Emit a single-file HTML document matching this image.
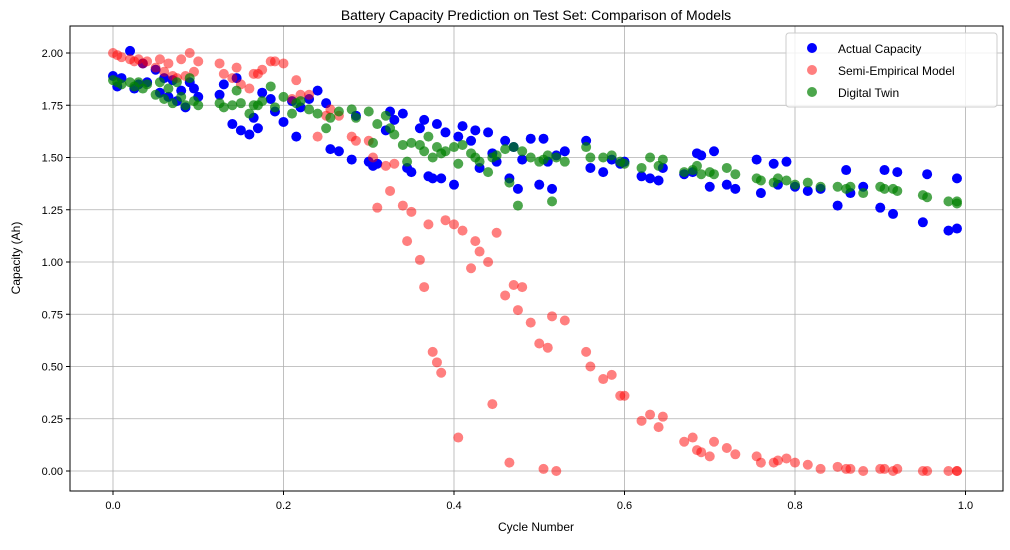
<!DOCTYPE html>
<html><head><meta charset="utf-8"><style>
body{margin:0;background:#fff;}
svg text{font-family:"Liberation Sans","DejaVu Sans",sans-serif;}
</style></head><body>
<svg id="chart" width="1010" height="545" xmlns="http://www.w3.org/2000/svg">
<rect width="1010" height="545" fill="#fff"/>
<text x="536" y="20" text-anchor="middle" font-size="14">Battery Capacity Prediction on Test Set: Comparison of Models</text>
<g id="grid"></g>
<g id="marks"></g>
<rect x="70" y="26" width="933" height="465" fill="none" stroke="#000" stroke-width="1"/>
<g id="ticks"></g>
<text x="536" y="531" text-anchor="middle" font-size="12">Cycle Number</text>
<text transform="translate(20,258) rotate(-90)" text-anchor="middle" font-size="12">Capacity (Ah)</text>
<g>
<rect x="786" y="33" width="211" height="74" rx="3" fill="#fff" fill-opacity="0.8" stroke="#ccc"/>
<g><circle cx="812" cy="48" r="5" fill="#0000ff"/><text x="838" y="53" font-size="12">Actual Capacity</text></g>
<g><circle cx="812" cy="70" r="5" fill="#ff0000" fill-opacity="0.5"/><text x="838" y="75" font-size="12">Semi-Empirical Model</text></g>
<g><circle cx="812" cy="92" r="5" fill="#008000" fill-opacity="0.7"/><text x="838" y="97" font-size="12">Digital Twin</text></g>
</g>
</svg>
<script>
const cycles=[0.00,0.005,0.01,0.02,0.025,0.03,0.035,0.04,0.05,0.055,0.06,0.065,0.07,0.075,0.08,0.085,0.09,0.095,0.10,0.125,0.13,0.14,0.145,0.15,0.16,0.165,0.17,0.175,0.185,0.19,0.20,0.21,0.215,0.22,0.23,0.24,0.25,0.255,0.265,0.28,0.285,0.30,0.305,0.31,0.32,0.325,0.33,0.34,0.345,0.35,0.36,0.365,0.37,0.375,0.38,0.385,0.39,0.40,0.405,0.41,0.42,0.425,0.43,0.44,0.445,0.45,0.46,0.465,0.47,0.475,0.48,0.49,0.50,0.505,0.51,0.515,0.52,0.53,0.555,0.56,0.575,0.585,0.595,0.60,0.62,0.63,0.64,0.645,0.67,0.68,0.685,0.69,0.70,0.705,0.72,0.73,0.755,0.76,0.775,0.78,0.79,0.80,0.815,0.83,0.85,0.86,0.865,0.88,0.90,0.905,0.915,0.92,0.95,0.955,0.98,0.99,0.99];
const actual=[1.89,1.84,1.88,2.01,1.83,1.85,1.95,1.86,1.92,1.81,1.88,1.79,1.87,1.77,1.82,1.74,1.86,1.83,1.79,1.80,1.85,1.66,1.88,1.63,1.61,1.69,1.64,1.81,1.78,1.72,1.67,1.77,1.60,1.74,1.78,1.82,1.76,1.54,1.53,1.49,1.70,1.48,1.46,1.47,1.63,1.72,1.68,1.71,1.45,1.43,1.64,1.68,1.41,1.40,1.66,1.40,1.62,1.37,1.60,1.65,1.58,1.63,1.45,1.62,1.52,1.48,1.58,1.40,1.55,1.35,1.49,1.59,1.37,1.59,1.48,1.35,1.51,1.53,1.58,1.45,1.43,1.49,1.47,1.48,1.41,1.40,1.39,1.45,1.42,1.43,1.52,1.51,1.36,1.53,1.37,1.35,1.49,1.33,1.47,1.37,1.48,1.36,1.34,1.35,1.27,1.44,1.33,1.36,1.26,1.44,1.23,1.43,1.19,1.42,1.15,1.16,1.40];
const semiEmpirical=[2.00,1.99,1.98,1.97,1.96,1.97,1.95,1.96,1.93,1.97,1.91,1.95,1.89,1.88,1.97,1.89,2.00,1.91,1.96,1.95,1.90,1.88,1.93,1.85,1.83,1.90,1.90,1.92,1.96,1.96,1.95,1.78,1.87,1.80,1.80,1.60,1.70,1.73,1.70,1.60,1.58,1.58,1.50,1.26,1.46,1.34,1.47,1.27,1.10,1.24,1.01,0.88,1.18,0.57,0.52,0.47,1.20,1.18,0.16,1.15,0.97,1.10,1.05,1.00,0.32,1.14,0.84,0.04,0.89,0.77,0.88,0.71,0.61,0.01,0.59,0.74,0.00,0.72,0.57,0.50,0.44,0.46,0.36,0.36,0.24,0.27,0.21,0.26,0.14,0.16,0.10,0.09,0.07,0.14,0.11,0.08,0.07,0.04,0.04,0.05,0.06,0.04,0.03,0.01,0.02,0.01,0.01,0.00,0.01,0.01,0.00,0.01,0.00,0.00,0.00,0.00,0.00];
const digitalTwin=[1.87,1.86,1.85,1.86,1.84,1.86,1.83,1.85,1.80,1.86,1.78,1.83,1.76,1.86,1.79,1.75,1.88,1.77,1.75,1.76,1.74,1.75,1.82,1.76,1.71,1.75,1.75,1.77,1.84,1.74,1.79,1.71,1.76,1.77,1.73,1.71,1.64,1.69,1.72,1.73,1.69,1.72,1.57,1.66,1.70,1.64,1.61,1.56,1.48,1.57,1.56,1.53,1.60,1.50,1.55,1.52,1.53,1.55,1.47,1.56,1.52,1.50,1.48,1.43,1.50,1.51,1.54,1.38,1.55,1.27,1.53,1.50,1.48,1.49,1.51,1.29,1.50,1.48,1.55,1.50,1.50,1.51,1.48,1.47,1.45,1.50,1.46,1.49,1.43,1.44,1.46,1.42,1.43,1.42,1.45,1.42,1.40,1.39,1.38,1.40,1.39,1.37,1.38,1.36,1.36,1.35,1.36,1.33,1.36,1.35,1.35,1.34,1.32,1.31,1.29,1.29,1.28];
const xTicks=[0.0,0.2,0.4,0.6,0.8,1.0];
const xTickLabels=["0.0","0.2","0.4","0.6","0.8","1.0"];
const yTicks=[0,0.25,0.5,0.75,1.0,1.25,1.5,1.75,2.0];
const yTickLabels=["0.00","0.25","0.50","0.75","1.00","1.25","1.50","1.75","2.00"];

const NS="http://www.w3.org/2000/svg";
function xs(v){return 113+v*852.5;}
function ys(v){return 471-v*209;}
function mk(tag,attrs,parent){const e=document.createElementNS(NS,tag);for(const k in attrs)e.setAttribute(k,attrs[k]);parent.appendChild(e);return e;}
const grid=document.getElementById('grid'),ticks=document.getElementById('ticks'),marks=document.getElementById('marks');
xTicks.forEach((t,i)=>{
  const g=mk('line',{x1:xs(t),x2:xs(t),y1:26,y2:491,stroke:'#b0b0b0','stroke-width':0.8},grid);
  
  
  const tk=mk('line',{x1:xs(t),x2:xs(t),y1:491,y2:495,stroke:'#000'},ticks);
  
  
  const tx=mk('text',{x:xs(t),y:509,'text-anchor':'middle','font-size':11},ticks);
  tx.textContent=xTickLabels[i];
  
  
});
yTicks.forEach((t,i)=>{
  const g=mk('line',{x1:70,x2:1003,y1:ys(t),y2:ys(t),stroke:'#b0b0b0','stroke-width':0.8},grid);
  
  
  const tk=mk('line',{x1:66,x2:70,y1:ys(t),y2:ys(t),stroke:'#000'},ticks);
  
  
  const tx=mk('text',{x:63,y:ys(t)+4,'text-anchor':'end','font-size':11},ticks);
  tx.textContent=yTickLabels[i];
  
  
});
function series(vals,color,op,name){
  vals.forEach((v,i)=>{
    const c=mk('circle',{cx:xs(cycles[i]),cy:ys(v),r:5,fill:color,'fill-opacity':op},marks);
    
    
  });
}
series(actual,'#0000ff',1,'actual-point');
series(semiEmpirical,'#ff0000',0.5,'semi-empirical-point');
series(digitalTwin,'#008000',0.7,'digital-twin-point');
</script>
</body></html>
